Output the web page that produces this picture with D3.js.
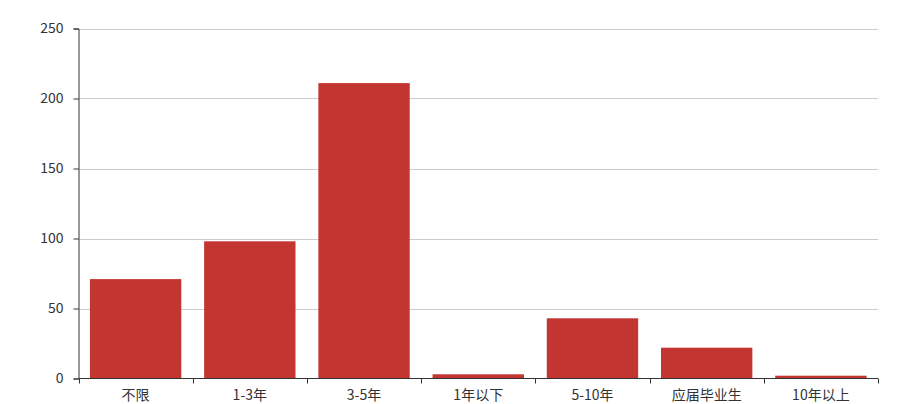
<!DOCTYPE html>
<html><head><meta charset="utf-8">
<script src="https://cdn.jsdelivr.net/npm/d3@7/dist/d3.min.js"></script>
<style>body{margin:0;background:#fff}svg{display:block}</style>
</head><body><svg id="c" width="903" height="404"></svg>
<script>
const categories = ["不限","1-3年","3-5年","1年以下","5-10年","应届毕业生","10年以上"];
const values = [71, 98, 211, 3, 43, 22, 2];
const yTicks = [0, 50, 100, 150, 200, 250];

const svg = d3.select("#c");
const font = "'Noto Sans CJK SC', 'Microsoft YaHei', sans-serif";
const m = {l: 78.5, r: 878, t: 28.5, b: 378.5};
const x = d3.scaleBand().domain(categories).range([m.l, m.r]).paddingInner(0.2).paddingOuter(0.1);
const y = d3.scaleLinear().domain([0, 250]).range([m.b, m.t]);

// grid lines
svg.append("g").selectAll("line").data(yTicks.filter(d => d > 0)).join("line")
  .attr("x1", m.l).attr("x2", m.r)
  .attr("y1", d => Math.round(y(d)) + 0.5).attr("y2", d => Math.round(y(d)) + 0.5)
  .attr("stroke", "#ccc").attr("stroke-width", 1);

// bars
svg.append("g").selectAll("rect").data(values).join("rect")
  .attr("x", (d, i) => x(categories[i]))
  .attr("width", x.bandwidth())
  .attr("y", d => y(d))
  .attr("height", d => y(0) - y(d))
  .attr("fill", "#c23531");

// y axis
const yAxis = d3.axisLeft(y).tickValues(yTicks).tickSize(5).tickPadding(10);
const gy = svg.append("g").attr("transform", `translate(${m.l},0)`).call(yAxis);
gy.select(".domain").attr("stroke", "#333");
gy.selectAll(".tick line").attr("stroke", "#333");
gy.selectAll(".tick text").attr("fill", "#333").style("font-family", font).style("font-size", "14px");

// x axis with ticks at band boundaries
const gx = svg.append("g").attr("transform", `translate(0,${m.b})`);
gx.append("line").attr("x1", m.l).attr("x2", m.r).attr("stroke", "#333");
const step = x.step();
const bounds = d3.range(categories.length + 1).map(i => m.l + i * step);
gx.selectAll("line.tk").data(bounds).join("line").attr("class", "tk")
  .attr("x1", d => Math.round(d) + 0.5).attr("x2", d => Math.round(d) + 0.5)
  .attr("y1", 0).attr("y2", 5).attr("stroke", "#333");
gx.selectAll("text").data(categories).join("text")
  .attr("x", d => x(d) + x.bandwidth() / 2)
  .attr("y", 21)
  .attr("text-anchor", "middle")
  .attr("fill", "#333")
  .style("font-family", font).style("font-size", "14px")
  .text(d => d);
</script>
</body></html>
